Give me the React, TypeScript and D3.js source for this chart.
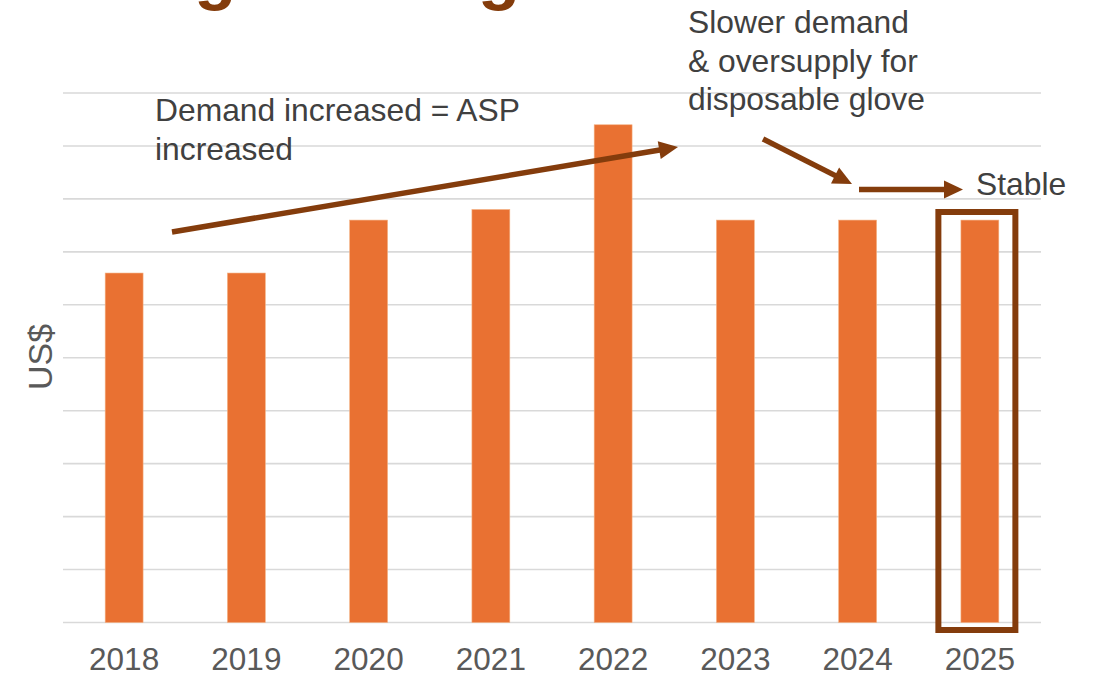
import React from 'react';
import * as d3 from 'd3';

const years = ['2018', '2019', '2020', '2021', '2022', '2023', '2024', '2025'];
const prices = [6.6, 6.6, 7.6, 7.8, 9.4, 7.6, 7.6, 7.6];
const yTicks = [0, 1, 2, 3, 4, 5, 6, 7, 8, 9, 10];
const titleText = 'Average Selling Price';
const note1 = ['Demand increased = ASP', 'increased'];
const note2 = ['Slower demand', '& oversupply for', 'disposable glove'];
const note3 = 'Stable';
const highlightYear = '2025';

const W = 1094;
const H = 674;
const BROWN = '#843C0C';
const BAR = '#E97132';
const FONT = 'Liberation Sans, Arial, sans-serif';

function Arrow({ x1, y1, x2, y2 }: { x1: number; y1: number; x2: number; y2: number }) {
  const dx = x2 - x1;
  const dy = y2 - y1;
  const len = Math.sqrt(dx * dx + dy * dy);
  const ux = dx / len;
  const uy = dy / len;
  const hl = 19;
  const hw = 9;
  const bx = x2 - ux * hl;
  const by = y2 - uy * hl;
  const px = -uy;
  const py = ux;
  const pts = [
    [x2, y2],
    [bx + px * hw, by + py * hw],
    [bx - px * hw, by - py * hw],
  ]
    .map((p) => p.join(','))
    .join(' ');
  return (
    <g>
      <line x1={x1} y1={y1} x2={bx + ux * 2} y2={by + uy * 2} stroke={BROWN} strokeWidth={5.5} />
      <polygon points={pts} fill={BROWN} />
    </g>
  );
}

export default function App() {
  const x = d3
    .scaleBand<string>()
    .domain(years)
    .range([63, 1041])
    .paddingInner(0.69)
    .paddingOuter(0.345);
  const y = d3.scaleLinear().domain([0, 10]).range([622.5, 93]);

  const hx = (x(highlightYear) as number) + x.bandwidth() / 2;

  return (
    <div style={{ position: 'absolute', left: 0, top: 0 }}>
      <svg width={W} height={H} style={{ display: 'block', background: '#fff' }}>
        {/* cut-off title */}
        <text x={5} y={-3.5} fontFamily={FONT} fontWeight="bold" fontSize={69} fill={BROWN}>
          {titleText}
        </text>

        {/* gridlines */}
        {yTicks.map((t) => (
          <line key={t} x1={63} x2={1041} y1={y(t)} y2={y(t)} stroke="#D9D9D9" strokeWidth={1.6} />
        ))}

        {/* bars */}
        {years.map((yr, i) => (
          <rect
            key={yr}
            x={x(yr)}
            y={y(prices[i])}
            width={x.bandwidth()}
            height={y(0) - y(prices[i])}
            fill={BAR}
            stroke="#F4B183"
            strokeWidth={0.6}
          />
        ))}

        {/* x labels */}
        {years.map((yr) => (
          <text
            key={yr}
            x={(x(yr) as number) + x.bandwidth() / 2}
            y={670}
            textAnchor="middle"
            fontFamily={FONT}
            fontSize={31.5}
            fill="#595959"
          >
            {yr}
          </text>
        ))}

        {/* y label */}
        <text
          transform={`translate(52,357) rotate(-90)`}
          textAnchor="middle"
          fontFamily={FONT}
          fontSize={34}
          fill="#595959"
        >
          US$
        </text>

        {/* highlight box */}
        <rect x={hx - 41.5} y={212} width={77} height={418} fill="none" stroke={BROWN} strokeWidth={6} />

        {/* arrows */}
        <Arrow x1={172} y1={232} x2={678} y2={147} />
        <Arrow x1={763} y1={139} x2={852} y2={184} />
        <Arrow x1={859} y1={189.5} x2={963} y2={189.5} />

        {/* annotations */}
        {note1.map((t, i) => (
          <text key={t} x={155} y={121 + i * 38.5} fontFamily={FONT} fontSize={31.8} fill="#404040">
            {t}
          </text>
        ))}
        {note2.map((t, i) => (
          <text key={t} x={688} y={33 + i * 38.5} fontFamily={FONT} fontSize={31.8} fill="#404040">
            {t}
          </text>
        ))}
        <text x={976} y={195} fontFamily={FONT} fontSize={31.8} fill="#404040">
          {note3}
        </text>
      </svg>
    </div>
  );
}
